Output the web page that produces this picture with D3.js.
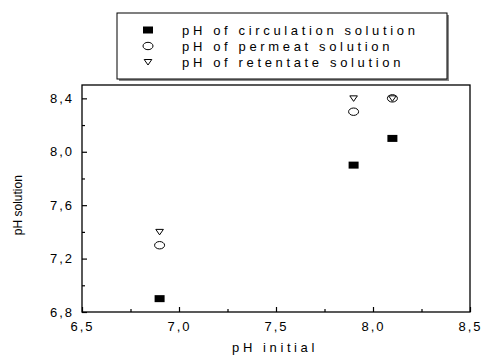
<!DOCTYPE html>
<html>
<head>
<meta charset="utf-8">
<script src="https://cdn.jsdelivr.net/npm/d3@7"></script>
<style>
  html, body { margin: 0; padding: 0; background: #fff; }
  svg { display: block; font-family: "Liberation Sans", Arial, sans-serif; }
</style>
</head>
<body>
<svg id="chart" width="482" height="357"></svg>
<script>
// Initial pH of each run
const pHInitial = [6.9, 7.9, 8.1];
// Measured pH of each solution
const circulation = [6.9, 7.9, 8.1];
const permeate = [7.3, 8.3, 8.4];
const retentate = [7.4, 8.4, 8.4];
const seriesNames = ["pH of circulation solution", "pH of permeat solution", "pH of retentate solution"];
const xTicks = [6.5, 7.0, 7.5, 8.0, 8.5];
const yTicks = [6.8, 7.2, 7.6, 8.0, 8.4];

const svg = d3.select("#chart");
const x = d3.scaleLinear().domain([6.5, 8.5]).range([82, 470]);
const y = d3.scaleLinear().domain([6.8, 8.5]).range([312, 85]);
const fmt = d => d3.format(".1f")(d).replace(".", ",");

// Plot frame
svg.append("rect")
  .attr("x", x(6.5)).attr("y", y(8.5))
  .attr("width", x(8.5) - x(6.5)).attr("height", y(6.8) - y(8.5))
  .attr("fill", "none").attr("stroke", "#000").attr("stroke-width", 1.3);

// Inward-pointing axes
const xAxis = svg.append("g").attr("transform", `translate(0,${y(6.8)})`)
  .call(d3.axisBottom(x).tickValues(xTicks).tickSize(-5).tickPadding(10).tickFormat(fmt));
const xMinor = svg.append("g").attr("transform", `translate(0,${y(6.8)})`)
  .call(d3.axisBottom(x).tickValues([6.75, 7.25, 7.75, 8.25]).tickSize(-3).tickFormat(""));
const yAxis = svg.append("g").attr("transform", `translate(${x(6.5)},0)`)
  .call(d3.axisLeft(y).tickValues(yTicks).tickSize(-5).tickPadding(10).tickFormat(fmt));
const yMinor = svg.append("g").attr("transform", `translate(${x(6.5)},0)`)
  .call(d3.axisLeft(y).tickValues([7.0, 7.4, 7.8, 8.2]).tickSize(-3).tickFormat(""));

[xAxis, xMinor, yAxis, yMinor].forEach(g => {
  g.select(".domain").remove();
  g.selectAll(".tick line").attr("stroke", "#000").attr("stroke-width", 1.2);
  g.selectAll("text").attr("font-size", 13).attr("fill", "#000")
    .attr("font-family", "Liberation Sans, Arial, sans-serif")
    .style("letter-spacing", "2px");
});
yAxis.selectAll("text").attr("x", -8);

// Axis titles
svg.append("text").attr("x", 275).attr("y", 352).attr("text-anchor", "middle")
  .attr("font-size", 13).style("letter-spacing", "3.6px").text("pH initial");
svg.append("text").attr("transform", `translate(22,${y(7.6)}) rotate(-90)`)
  .attr("text-anchor", "middle").attr("font-size", 12).text("pH solution");

// Marker drawers
const markers = [
  (g) => g.append("rect").attr("x", -5).attr("y", -3.5).attr("width", 10).attr("height", 7).attr("fill", "#000"),
  (g) => g.append("ellipse").attr("rx", 5).attr("ry", 3.7).attr("fill", "#fff").attr("stroke", "#000").attr("stroke-width", 1),
  (g) => g.append("path").attr("d", "M-3.8,-2.5 L3.8,-2.5 L0,3 Z").attr("fill", "#fff").attr("stroke", "#000").attr("stroke-width", 1)
];
const series = [circulation, permeate, retentate];

series.forEach((vals, si) => {
  vals.forEach((v, i) => {
    const g = svg.append("g").attr("transform", `translate(${x(pHInitial[i])},${y(v)})`);
    markers[si](g);
  });
});

// Legend with drop shadow
const lg = svg.append("g");
lg.append("rect").attr("x", 119).attr("y", 15).attr("width", 330).attr("height", 66).attr("fill", "#888");
lg.append("rect").attr("x", 117).attr("y", 13).attr("width", 330).attr("height", 66)
  .attr("fill", "#fff").attr("stroke", "#000").attr("stroke-width", 1);
seriesNames.forEach((name, i) => {
  const ry = 30 + i * 16;
  const g = lg.append("g").attr("transform", `translate(148,${ry})`);
  markers[i](g);
  lg.append("text").attr("x", 182).attr("y", ry + 4.5).attr("font-size", 13)
    .style("letter-spacing", "3.65px").text(name);
});
</script>
</body>
</html>
